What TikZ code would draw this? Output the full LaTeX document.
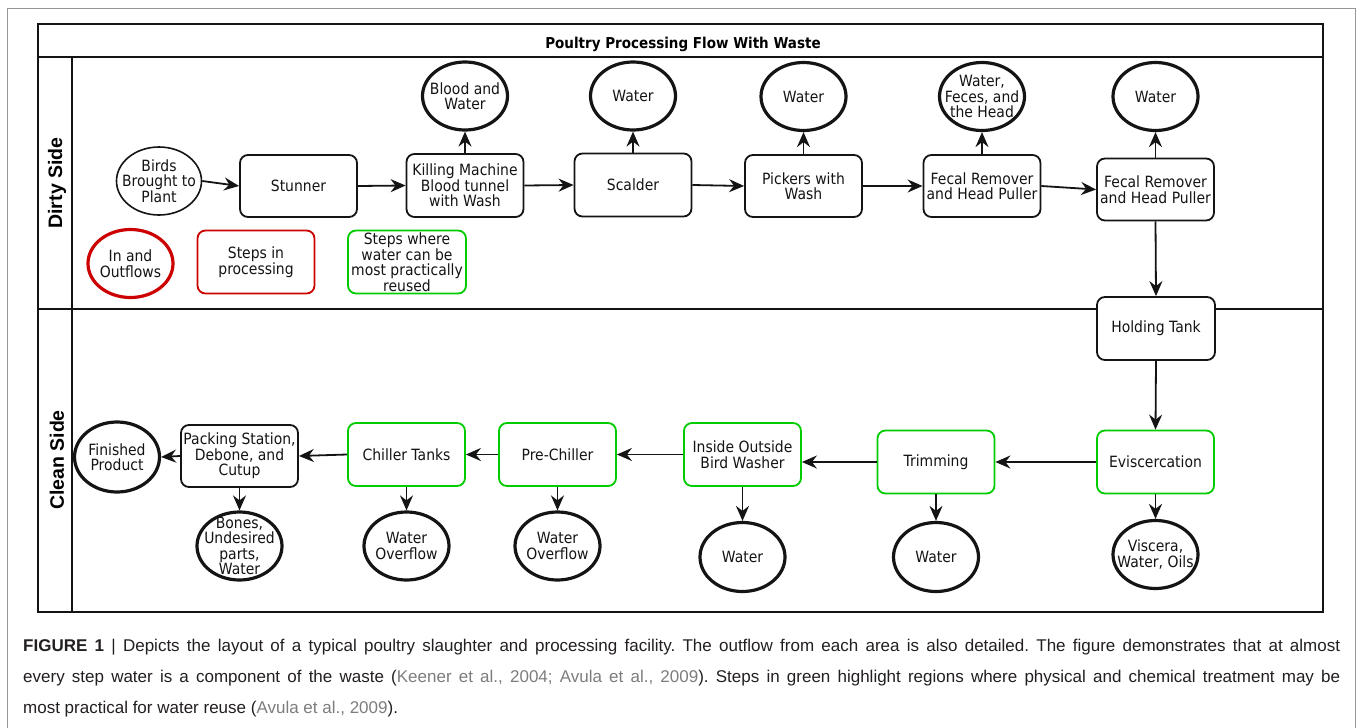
\documentclass[tikz,border=0pt]{standalone}
\usepackage{fontspec}
\setmainfont{DejaVu Sans}[FakeStretch=0.9]
\newfontfamily\capfont{Liberation Sans}
\newfontfamily\lanefont{Liberation Sans}
\usetikzlibrary{shapes.geometric,arrows.meta}
\newcommand\dfs{\fontsize{15.5}{15.5}\selectfont}
\definecolor{redc}{RGB}{204,0,0}
\definecolor{greenc}{RGB}{0,204,0}
\definecolor{captext}{RGB}{35,31,32}
\definecolor{citegrey}{RGB}{125,125,128}
\definecolor{framegrey}{RGB}{150,150,150}
\definecolor{ink}{RGB}{20,20,20}
\tikzset{
  stepbox/.style={draw=ink, rounded corners=8pt, line width=1.8pt, fill=white,
    minimum width=117pt, minimum height=62pt, align=center, inner sep=1pt, font=\dfs, text=ink},
  greenbox/.style={stepbox, draw=greenc},
  outc/.style={ellipse, draw=ink, line width=3.2pt, fill=white, minimum width=85pt,
    minimum height=68pt, inner sep=0pt},
  otext/.style={align=center, font=\dfs, inner sep=0pt, text=ink},
  arr/.style={-{Stealth[length=15pt,width=13pt,inset=5pt]}, line width=1.8pt, draw=ink},
  lanelabel/.style={rotate=90, font=\fontsize{19.5}{20}\lanefont\bfseries},
  captionline/.style={anchor=base west, inner sep=0pt, text=captext, font=\fontsize{17}{20}\capfont\frenchspacing}
}
\begin{document}
\begin{tikzpicture}[x=1pt,y=-1pt]
\useasboundingbox (0,0) rectangle (1357,728);
\fill[white] (0,0) rectangle (1357,728);
% outer figure frame
\draw[framegrey, line width=1pt] (7.5,728) -- (7.5,8.5) -- (1355.5,8.5) -- (1355.5,728);
% pool
\draw[ink, line width=1.8pt] (38,24) rectangle (1323,612);
\draw[ink, line width=1.8pt] (38,57) -- (1323,57);
\draw[ink, line width=1.8pt] (38,309) -- (1323,309);
\draw[ink, line width=1.8pt] (72,57) -- (72,612);
\node[font=\fontsize{15}{16}\selectfont\bfseries, anchor=base, inner sep=0pt] (title) at (683,48.5) {Poultry Processing Flow With Waste};
\node[lanelabel] (dirty) at (57,183) {Dirty Side};
\node[lanelabel] (clean) at (57,460) {Clean Side};

% dirty side steps
\node[ellipse, draw=ink, line width=1.6pt, minimum width=85pt, minimum height=68pt, inner sep=0pt] (birds) at (159,181) {};
\node[otext] (birdst) at (birds) {Birds\\Brought to\\Plant};
\node[stepbox] (stun) at (298.5,186) {Stunner};
\node[stepbox, minimum height=63pt] (kill) at (465,185.5) {Killing Machine\\Blood tunnel\\with Wash};
\node[stepbox, minimum height=63pt] (scald) at (633,185) {Scalder};
\node[stepbox] (pick) at (803.5,186) {Pickers with\\Wash};
\node[stepbox] (fec1) at (982,186) {Fecal Remover\\and Head Puller};
\node[stepbox] (fec2) at (1155.5,189.5) {Fecal Remover\\and Head Puller};

\node[outc] (o1) at (465,96) {};
\node[otext] (o1t) at (o1) {Blood and\\Water};
\node[outc] (o2) at (633,96) {};
\node[otext] (o2t) at (o2) {Water};
\node[outc] (o3) at (803.5,96.5) {};
\node[otext] (o3t) at (o3) {Water};
\node[outc] (o4) at (982,96.5) {};
\node[otext] (o4t) at (o4) {Water,\\Feces, and\\the Head};
\node[outc] (o5) at (1155.5,96.5) {};
\node[otext] (o5t) at (o5) {Water};

% legend
\node[outc, draw=redc] (lc) at (130.5,263.5) {};
\node[otext] (lct) at (lc) {In and\\Outflows};
\node[stepbox, draw=redc, minimum height=63pt] (lr) at (256,262) {Steps in\\processing};
\node[greenbox, minimum width=118pt, minimum height=63pt] (lg) at (407,262) {Steps where\\water can be\\most practically\\reused};

% clean side
\node[stepbox, minimum width=118pt, minimum height=63pt] (hold) at (1156,328.5) {Holding Tank};
\node[greenbox, minimum height=63pt] (evis) at (1155.5,462) {Eviscercation};
\node[greenbox, minimum height=63pt] (trim) at (936,462) {Trimming};
\node[greenbox, minimum height=63pt] (iobw) at (742.5,454.5) {Inside Outside\\Bird Washer};
\node[greenbox, minimum height=63pt] (prec) at (557.5,454.5) {Pre-Chiller};
\node[greenbox, minimum height=63pt] (chil) at (406.5,454.5) {Chiller Tanks};
\node[stepbox] (pack) at (239.5,456) {Packing Station,\\Debone, and\\Cutup};
\node[outc, minimum height=70pt] (fin) at (117,457) {};
\node[otext] (fint) at (fin) {Finished\\Product};

\node[outc] (bones) at (239.5,546) {};
\node[otext] (bonest) at (bones) {Bones,\\Undesired\\parts,\\Water};
\node[outc] (wo1) at (406.5,546) {};
\node[otext] (wo1t) at (wo1) {Water\\Overflow};
\node[outc] (wo2) at (557.5,546) {};
\node[otext] (wo2t) at (wo2) {Water\\Overflow};
\node[outc, minimum height=69pt] (w6) at (742.5,557) {};
\node[otext] (w6t) at (w6) {Water};
\node[outc, minimum height=69pt] (w7) at (936,557) {};
\node[otext] (w7t) at (w7) {Water};
\node[outc] (visc) at (1155.5,554.5) {};
\node[otext] (visct) at (visc) {Viscera,\\Water, Oils};

% connectors dirty side
\draw[arr] (birds.east) -- (stun.west);
\draw[arr] (stun.east) -- (kill.west);
\draw[arr] (kill.east) -- (scald.west);
\draw[arr] (scald.east) -- (pick.west);
\draw[arr] (pick.east) -- (fec1.west);
\draw[arr] (fec1.east) -- (fec2.west);
\draw[arr] (kill.north) -- (o1.south);
\draw[arr] (scald.north) -- (o2.south);
\draw[arr] (pick.north) -- (o3.south);
\draw[arr] (fec1.north) -- (o4.south);
\draw[arr] (fec2.north) -- (o5.south);
\draw[arr] (fec2.south) -- (hold.north);
% clean side
\draw[arr] (hold.south) -- (evis.north);
\draw[arr] (evis.west) -- (trim.east);
\draw[arr] (trim.west) -- (trim.west -| iobw.east);
\draw[arr] (iobw.west) -- (prec.east);
\draw[arr] (prec.west) -- (chil.east);
\draw[arr] (chil.west) -- (pack.east);
\draw[arr] (pack.west) -- (fin.east);
\draw[arr] (pack.south) -- (bones.north);
\draw[arr] (chil.south) -- (wo1.north);
\draw[arr] (prec.south) -- (wo2.north);
\draw[arr] (iobw.south) -- (w6.north);
\draw[arr] (trim.south) -- (w7.north);
\draw[arr] (evis.south) -- (visc.north);

% caption
\node[captionline] (cap1) at (23,651) {\makebox[1317pt][s]{\textbf{FIGURE 1} | Depicts the layout of a typical poultry slaughter and processing facility. The outflow from each area is also detailed. The figure demonstrates that at almost}};
\node[captionline] (cap2) at (23,682) {\makebox[1317pt][s]{every step water is a component of the waste (\textcolor{citegrey}{Keener et al., 2004; Avula et al., 2009}). Steps in green highlight regions where physical and chemical treatment may be}};
\node[captionline] (cap3) at (23,713) {most practical for water reuse (\textcolor{citegrey}{Avula et al., 2009}).};
\end{tikzpicture}
\end{document}
